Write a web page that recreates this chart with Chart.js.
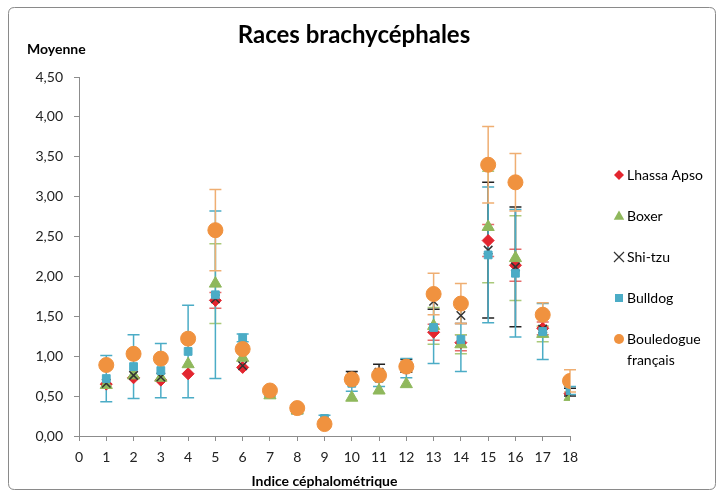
<!DOCTYPE html>
<html>
<head>
<meta charset="utf-8">
<script src="https://cdn.jsdelivr.net/npm/chart.js@4/dist/chart.umd.min.js"></script>
<style>
  html, body { margin: 0; padding: 0; background: #fff; }
  #wrap { width: 720px; height: 495px; position: relative; }
</style>
</head>
<body>
<div id="wrap"><canvas id="c" width="720" height="495"></canvas></div>
<script>
// ---- Data ----
const chartTitle = "Races brachycéphales";
const yAxisTitle = "Moyenne";
const xAxisTitle = "Indice céphalométrique";
const indices = [1,2,3,4,5,6,7,8,9,10,11,12,13,14,15,16,17,18];
const xTickLabels = ["0","1","2","3","4","5","6","7","8","9","10","11","12","13","14","15","16","17","18"];
const yTickLabels = ["0,00","0,50","1,00","1,50","2,00","2,50","3,00","3,50","4,00","4,50"];
const seriesNames = ["Lhassa Apso", "Boxer", "Shi-tzu", "Bulldog", ["Bouledogue", "français"]];

const lhassaApso = [0.65,0.73,0.70,0.78,1.70,0.86,0.55,0.34,0.16,0.70,0.75,0.85,1.30,1.17,2.45,2.14,1.35,0.53];
const boxer      = [0.64,0.76,0.73,0.90,1.91,0.98,0.51,0.32,0.16,0.48,0.57,0.65,1.38,1.15,2.62,2.23,1.28,0.49];
const shiTzu     = [0.66,0.76,0.74,1.20,1.72,0.88,0.55,0.35,0.17,0.75,0.80,0.88,1.69,1.51,2.33,2.12,1.34,0.55];
const bulldog    = [0.72,0.87,0.82,1.06,1.77,1.23,0.55,0.33,0.22,0.66,0.72,0.85,1.36,1.21,2.27,2.04,1.31,0.57];
const bouledogue = [0.89,1.03,0.97,1.22,2.58,1.09,0.57,0.35,0.15,0.71,0.76,0.87,1.78,1.66,3.40,3.18,1.52,0.69];

// ± error (standard deviation) values
const errLhassa     = [null,null,null,null,0.10,null,null,null,null,null,null,null,0.10,0.10,0.20,0.20,0.08,null];
const errBoxer      = [null,null,null,null,0.50,null,null,null,null,null,null,null,0.23,0.12,0.70,0.53,0.10,null];
const errShiTzu     = [null,null,null,null,null,null,null,null,null,0.06,0.10,0.08,0.10,0.10,0.85,0.75,null,0.05];
const errBulldog    = [0.29,0.40,0.34,0.58,1.05,0.05,0.05,0.05,0.04,0.10,0.10,0.12,0.45,0.40,0.85,0.80,0.35,0.05];
const errBouledogue = [0.05,0.05,0.05,0.05,0.51,0.05,0.04,0.04,0.04,0.06,0.06,0.06,0.26,0.25,0.48,0.36,0.15,0.14];

const FONT = "Lato, 'Open Sans', sans-serif";

function pts(arr) { return indices.map((x, i) => ({ x: x, y: arr[i] })); }

const datasets = [
  { label: "Lhassa Apso", data: pts(lhassaApso), err: errLhassa, errColor: "#E66A6A",
    pointStyle: "rectRot", pointRadius: 6, backgroundColor: "#E3262F", borderColor: "#E3262F", borderWidth: 1, order: 4 },
  { label: "Boxer", data: pts(boxer), err: errBoxer, errColor: "#A9C97A",
    pointStyle: "triangle", pointRadius: 7, backgroundColor: "#8FB85C", borderColor: "#8FB85C", borderWidth: 1, order: 3 },
  { label: "Shi-tzu", data: pts(shiTzu), err: errShiTzu, errColor: "#222222",
    pointStyle: "crossRot", pointRadius: 6, backgroundColor: "#333", borderColor: "#333", borderWidth: 1.5, order: 2 },
  { label: "Bulldog", data: pts(bulldog), err: errBulldog, errColor: "#4BACC6",
    pointStyle: "rect", pointRadius: 5.5, backgroundColor: "#4BACC6", borderColor: "#4BACC6", borderWidth: 1, order: 1 },
  { label: "Bouledogue français", data: pts(bouledogue), err: errBouledogue, errColor: "#EFAE72",
    pointStyle: "circle", pointRadius: 7.5, backgroundColor: "#F0923F", borderColor: "#F0923F", borderWidth: 1, order: 0 }
];

const framePlugin = {
  id: "frame",
  beforeDraw(chart) {
    const ctx = chart.ctx;
    ctx.save();
    ctx.fillStyle = "#fff";
    ctx.fillRect(0, 0, chart.width, chart.height);
    ctx.strokeStyle = "#8a8a8a";
    ctx.lineWidth = 1;
    const x = 8.5, y = 7.5, w = 707, h = 482, r = 6;
    ctx.beginPath();
    ctx.moveTo(x + r, y);
    ctx.lineTo(x + w - r, y); ctx.quadraticCurveTo(x + w, y, x + w, y + r);
    ctx.lineTo(x + w, y + h - r); ctx.quadraticCurveTo(x + w, y + h, x + w - r, y + h);
    ctx.lineTo(x + r, y + h); ctx.quadraticCurveTo(x, y + h, x, y + h - r);
    ctx.lineTo(x, y + r); ctx.quadraticCurveTo(x, y, x + r, y);
    ctx.stroke();
    // Title and y-axis heading
    ctx.fillStyle = "#000";
    ctx.textBaseline = "middle";
    ctx.textAlign = "center";
    ctx.font = "bold 24px " + FONT;
    ctx.fillText(chartTitle, 354, 35);
    ctx.textAlign = "left";
    ctx.font = "bold 14px " + FONT;
    ctx.fillText(yAxisTitle, 27, 49);
    ctx.restore();
  }
};

const errorBarPlugin = {
  id: "errorBars",
  beforeDatasetsDraw(chart) {
    const ctx = chart.ctx;
    const xs = chart.scales.x, ys = chart.scales.y;
    ctx.save();
    chart.data.datasets.forEach((ds) => {
      if (!ds.err) return;
      ctx.strokeStyle = ds.errColor;
      ctx.lineWidth = 1.5;
      ds.data.forEach((p, i) => {
        const e = ds.err[i];
        if (e == null) return;
        const px = xs.getPixelForValue(p.x);
        const yt = ys.getPixelForValue(p.y + e);
        const yb = ys.getPixelForValue(p.y - e);
        ctx.beginPath();
        ctx.moveTo(px, yt); ctx.lineTo(px, yb);
        ctx.moveTo(px - 6, yt); ctx.lineTo(px + 6, yt);
        ctx.moveTo(px - 6, yb); ctx.lineTo(px + 6, yb);
        ctx.stroke();
      });
    });
    ctx.restore();
  }
};

function drawMarker(ctx, style, x, y, r, fill, stroke, bw) {
  ctx.save();
  ctx.fillStyle = fill; ctx.strokeStyle = stroke; ctx.lineWidth = bw;
  ctx.beginPath();
  if (style === "rectRot") {
    ctx.moveTo(x, y - r); ctx.lineTo(x + r, y); ctx.lineTo(x, y + r); ctx.lineTo(x - r, y); ctx.closePath();
    ctx.fill();
  } else if (style === "triangle") {
    ctx.moveTo(x, y - r); ctx.lineTo(x + r * 0.95, y + r * 0.7); ctx.lineTo(x - r * 0.95, y + r * 0.7); ctx.closePath();
    ctx.fill();
  } else if (style === "crossRot") {
    ctx.moveTo(x - r, y - r); ctx.lineTo(x + r, y + r);
    ctx.moveTo(x + r, y - r); ctx.lineTo(x - r, y + r);
    ctx.stroke();
  } else if (style === "rect") {
    ctx.rect(x - r, y - r, 2 * r, 2 * r); ctx.fill();
  } else {
    ctx.arc(x, y, r, 0, Math.PI * 2); ctx.fill();
  }
  ctx.restore();
}

const legendPlugin = {
  id: "customLegend",
  afterDraw(chart) {
    const ctx = chart.ctx;
    const sizes = [5, 5.5, 5, 4, 5];
    ctx.save();
    ctx.font = "14px " + FONT;
    ctx.fillStyle = "#000";
    ctx.textBaseline = "middle";
    ctx.textAlign = "left";
    chart.data.datasets.forEach((ds, i) => {
      const y = 175 + i * 41;
      drawMarker(ctx, ds.pointStyle, 619, y, sizes[i], ds.backgroundColor, ds.borderColor, 1.2);
      const name = seriesNames[i];
      if (Array.isArray(name)) {
        name.forEach((line, k) => ctx.fillText(line, 627, y + k * 21));
      } else {
        ctx.fillText(name, 627, y);
      }
    });
    ctx.restore();
  }
};

new Chart(document.getElementById("c"), {
  type: "scatter",
  data: { datasets: datasets },
  options: {
    responsive: false,
    animation: false,
    events: [],
    layout: { padding: { left: 0, right: 150, top: 77, bottom: 0 } },
    plugins: { legend: { display: false }, title: { display: false }, tooltip: { enabled: false } },
    scales: {
      x: {
        type: "linear", min: 0, max: 18,
        afterFit(scale) { scale.height = 59; },
        afterBuildTicks(scale) { scale.ticks = xTickLabels.map((t, i) => ({ value: i })); },
        ticks: { stepSize: 1, autoSkip: false, maxRotation: 0, padding: 8, color: "#222",
                 font: { family: FONT, size: 14 }, callback: (v) => xTickLabels[v] },
        grid: { display: true, drawOnChartArea: false, drawTicks: true, tickLength: 5, color: "#8c8c8c" },
        border: { display: true, color: "#8c8c8c", width: 1 },
        title: { display: true, text: xAxisTitle, color: "#000", font: { family: FONT, size: 14, weight: "bold" },
                 padding: { top: 2, bottom: 5 } }
      },
      y: {
        type: "linear", min: 0, max: 4.5,
        afterFit(scale) { scale.width = 79; },
        afterBuildTicks(scale) { scale.ticks = yTickLabels.map((t, i) => ({ value: i * 0.5 })); },
        ticks: { stepSize: 0.5, padding: 11, color: "#222", font: { family: FONT, size: 14 },
                 callback: (v) => yTickLabels[Math.round(v / 0.5)] },
        grid: { display: true, drawOnChartArea: false, drawTicks: true, tickLength: 5, color: "#8c8c8c" },
        border: { display: true, color: "#8c8c8c", width: 1 }
      }
    }
  },
  plugins: [framePlugin, errorBarPlugin, legendPlugin]
});
</script>
</body>
</html>
